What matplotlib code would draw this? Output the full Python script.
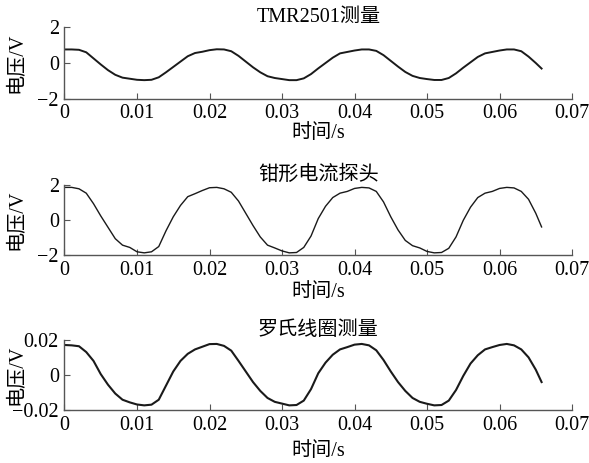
import numpy as np
import matplotlib
matplotlib.use('Agg')
import matplotlib.pyplot as plt

plt.rcParams['font.family'] = ['Liberation Serif', 'Noto Sans CJK SC']
plt.rcParams['axes.unicode_minus'] = True

# time axis (s), sampled every 1 ms plus the last sample
t = [i * 0.001 for i in range(66)] + [0.0658]

# TMR2501 output (V)
tmr = [0.76, 0.76, 0.74, 0.60, 0.26, -0.08, -0.40, -0.66, -0.82, -0.88,
       -0.94, -0.96, -0.94, -0.80, -0.52, -0.22, 0.08, 0.38, 0.56, 0.63,
       0.72, 0.77, 0.76, 0.66, 0.40, 0.08, -0.24, -0.52, -0.74, -0.84,
       -0.90, -0.96, -0.96, -0.86, -0.62, -0.30, 0.00, 0.30, 0.54, 0.62,
       0.70, 0.76, 0.76, 0.68, 0.44, 0.12, -0.20, -0.50, -0.72, -0.84,
       -0.90, -0.95, -0.95, -0.84, -0.58, -0.26, 0.04, 0.34, 0.54, 0.62,
       0.70, 0.76, 0.76, 0.66, 0.36, 0.00, -0.31]

# clamp current probe (V)
clamp = [1.88, 1.88, 1.80, 1.55, 0.95, 0.25, -0.40, -1.05, -1.42, -1.55,
         -1.80, -1.86, -1.80, -1.50, -0.60, 0.20, 0.85, 1.35, 1.52, 1.70,
         1.86, 1.88, 1.80, 1.60, 1.10, 0.40, -0.30, -0.95, -1.42, -1.58,
         -1.75, -1.86, -1.84, -1.55, -0.90, 0.10, 0.80, 1.30, 1.55, 1.65,
         1.82, 1.88, 1.85, 1.65, 1.05, 0.20, -0.55, -1.15, -1.45, -1.58,
         -1.78, -1.86, -1.84, -1.60, -0.95, 0.00, 0.75, 1.30, 1.55, 1.65,
         1.82, 1.88, 1.85, 1.65, 1.20, 0.40, -0.38]

# Rogowski coil (V)
rogowski = [0.0170, 0.0168, 0.0163, 0.0130, 0.0080, 0.0005, -0.0055, -0.0105,
            -0.0140, -0.0155, -0.0167, -0.0172, -0.0168, -0.0140, -0.0060, 0.0020,
            0.0080, 0.0120, 0.0145, 0.0160, 0.0175, 0.0176, 0.0165, 0.0138,
            0.0080, 0.0020, -0.0040, -0.0090, -0.0130, -0.0152, -0.0162, -0.0172,
            -0.0170, -0.0145, -0.0080, 0.0010, 0.0070, 0.0115, 0.0145, 0.0158,
            0.0172, 0.0176, 0.0168, 0.0140, 0.0085, 0.0020, -0.0040, -0.0090,
            -0.0130, -0.0152, -0.0163, -0.0172, -0.0170, -0.0145, -0.0085, -0.0005,
            0.0065, 0.0112, 0.0145, 0.0158, 0.0170, 0.0176, 0.0168, 0.0145,
            0.0100, 0.0030, -0.0040]

titles = ['TMR2501测量', '钳形电流探头', '罗氏线圈测量']
series = [tmr, clamp, rogowski]
yticks = [[-2, 0, 2], [-2, 0, 2], [-0.02, 0, 0.02]]
ytick_labels = [['−2', '0', '2'], ['−2', '0', '2'], ['−0.02', '0', '0.02']]
xticks = [0, 0.01, 0.02, 0.03, 0.04, 0.05, 0.06, 0.07]
xtick_labels = ['0', '0.01', '0.02', '0.03', '0.04', '0.05', '0.06', '0.07']
line_widths = [1.4, 1.0, 1.5]

fig = plt.figure(figsize=(5.89, 4.63), dpi=100)
bottoms = [0.7868, 0.4486, 0.1138]
heights = [0.1542, 0.1512, 0.1525]
xlabel_y = [-0.35, -0.39, -0.45]
fs = 14.5

for i in range(3):
    ax = fig.add_axes([0.1095, bottoms[i], 0.8617, heights[i]])
    ax.plot(t, series[i], color='#1a1a1a', linewidth=line_widths[i])
    ax.set_xlim(0, 0.07)
    ax.set_ylim(yticks[i][0], yticks[i][-1])
    ax.set_xticks(xticks)
    ax.set_xticklabels(xtick_labels)
    ax.set_yticks(yticks[i])
    ax.set_yticklabels(ytick_labels[i])
    for side in ['top', 'right']:
        ax.spines[side].set_visible(False)
    for side in ['left', 'bottom']:
        ax.spines[side].set_color('#555555')
        ax.spines[side].set_linewidth(1.0)
    ax.tick_params(direction='in', length=4, width=0.8, color='#555555',
                   labelsize=fs)
    ax.tick_params(axis='x', pad=4)
    ax.tick_params(axis='y', pad=4)
    ax.set_title(titles[i], fontsize=fs, pad=3)
    ax.set_xlabel('时间/s', fontsize=fs)
    ax.xaxis.set_label_coords(0.5, xlabel_y[i])
    ax.set_ylabel('电压/V', fontsize=fs)
    ax.yaxis.set_label_coords(-0.075, 0.5)

fig.savefig('out.png', dpi=100)
